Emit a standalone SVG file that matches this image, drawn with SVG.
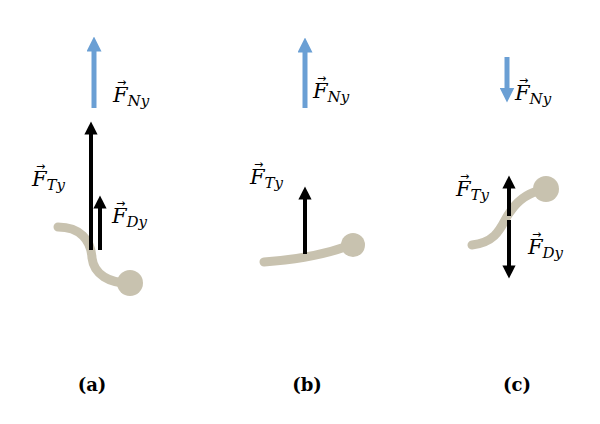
<svg xmlns="http://www.w3.org/2000/svg" width="600" height="424" viewBox="0 0 600 424">
<style>
.lab{font-family:"DejaVu Serif","Liberation Serif",serif;font-style:italic;font-size:21px;fill:#000}
.sub{font-size:15px}
.vec{font-family:"DejaVu Sans",sans-serif;font-size:11px;fill:#000}
.cap{font-family:"DejaVu Serif","Liberation Serif",serif;font-weight:bold;font-size:18px;fill:#000}
.tail{fill:none;stroke:#c8c2af;stroke-width:9;stroke-linecap:round}
.ball{fill:#c8c2af}
.blk{stroke:#000;stroke-width:4}
.blu{stroke:#6a9fd4;stroke-width:5}
</style>
<defs>
<marker id="ab" viewBox="0 0 10 10" refX="5" refY="5" markerWidth="3.3" markerHeight="3.3" orient="auto"><path d="M0,0L10,5L0,10z" fill="#000"/></marker>
<marker id="au" viewBox="0 0 10 10" refX="5" refY="5" markerWidth="3" markerHeight="3" orient="auto"><path d="M0,0L10,5L0,10z" fill="#6a9fd4"/></marker>
</defs>
<g id="bodies">
<path class="tail" d="M58,227 C80,227 91,240 92,258 C94,275 110,283 128,283"/>
<circle class="ball" cx="130" cy="283" r="13"/>
<path class="tail" d="M264,262 C290,260 320,256 345,247"/>
<circle class="ball" cx="353" cy="245" r="12"/>
<path class="tail" d="M472,245 C500,242 502,222 510,212 C518,200 530,192 543,190"/>
<circle class="ball" cx="546" cy="189" r="13"/>
</g>
<g id="connectors">
<line class="blu" x1="94" y1="108" x2="94" y2="44" marker-end="url(#au)"/>
<line class="blk" x1="91" y1="250" x2="91" y2="128" marker-end="url(#ab)"/>
<line class="blk" x1="100" y1="250" x2="100" y2="202" marker-end="url(#ab)"/>
<line class="blu" x1="305" y1="108" x2="305" y2="45" marker-end="url(#au)"/>
<line class="blk" x1="305" y1="254" x2="305" y2="193" marker-end="url(#ab)"/>
<line class="blu" x1="507" y1="57" x2="507" y2="95" marker-end="url(#au)"/>
<line class="blk" x1="509" y1="216" x2="509" y2="182" marker-end="url(#ab)"/>
<line class="blk" x1="509" y1="220" x2="509" y2="272" marker-end="url(#ab)"/>
</g>
<g id="labels">
<text class="lab" x="113" y="102">F<tspan class="sub" dy="4">Ny</tspan></text><text class="vec" x="117" y="86">→</text>
<text class="lab" x="32" y="186">F<tspan class="sub" dy="4">Ty</tspan></text><text class="vec" x="36" y="170">→</text>
<text class="lab" x="112" y="223">F<tspan class="sub" dy="4">Dy</tspan></text><text class="vec" x="116" y="207">→</text>
<text class="lab" x="313" y="98">F<tspan class="sub" dy="4">Ny</tspan></text><text class="vec" x="317" y="82">→</text>
<text class="lab" x="250" y="184">F<tspan class="sub" dy="4">Ty</tspan></text><text class="vec" x="254" y="168">→</text>
<text class="lab" x="515" y="100">F<tspan class="sub" dy="4">Ny</tspan></text><text class="vec" x="519" y="84">→</text>
<text class="lab" x="456" y="196">F<tspan class="sub" dy="4">Ty</tspan></text><text class="vec" x="460" y="180">→</text>
<text class="lab" x="528" y="254">F<tspan class="sub" dy="4">Dy</tspan></text><text class="vec" x="532" y="238">→</text>
<text class="cap" x="92" y="391" text-anchor="middle">(a)</text>
<text class="cap" x="307" y="391" text-anchor="middle">(b)</text>
<text class="cap" x="517" y="391" text-anchor="middle">(c)</text>
</g>
</svg>
